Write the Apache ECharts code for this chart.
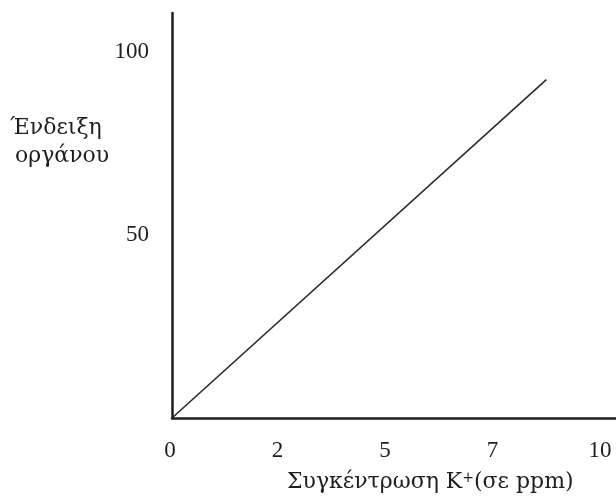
<!DOCTYPE html>
<html>
<head>
<meta charset="utf-8">
<style>
  html, body { margin: 0; padding: 0; background: #fff; }
  #chart { width: 616px; height: 498px; }
</style>
<script src="https://cdn.jsdelivr.net/npm/echarts@6/dist/echarts.min.js"></script>
</head>
<body>
<div id="chart"></div>
<script>
// Calibration line: instrument reading versus K+ concentration
const xTickLabels = ['0', '2', '5', '7', '10'];
const yTickValues = [50, 100];
const concentration = [0, 8.6];     // ppm
const reading = [0, 92.3];          // instrument reading

const FONT = '"Liberation Serif", "DejaVu Serif", serif';
const TEXT_FONT = '"DejaVu Serif", "Liberation Serif", serif';
const INK = '#1e1e1e';

const chart = echarts.init(document.getElementById('chart'), null, { renderer: 'canvas' });

chart.setOption({
  backgroundColor: '#ffffff',
  animation: false,
  grid: [
    { left: 172, right: 0, top: 13, bottom: 80 },
    { left: 170, width: 430, top: 13, bottom: 80 }
  ],
  xAxis: [
    {
      type: 'value', gridIndex: 0, min: 0, max: 10.2,
      axisLine: { show: true, lineStyle: { color: INK, width: 2.5 } },
      axisTick: { show: false }, axisLabel: { show: false }, splitLine: { show: false }
    },
    {
      type: 'category', gridIndex: 1, data: xTickLabels, boundaryGap: false,
      axisLine: { show: false }, axisTick: { show: false }, splitLine: { show: false },
      axisLabel: { show: true, interval: 0, margin: 21, color: INK, fontFamily: FONT, fontSize: 23 }
    }
  ],
  yAxis: [
    {
      type: 'value', gridIndex: 0, min: 0, max: 110.5, interval: 50,
      axisLine: { show: true, lineStyle: { color: INK, width: 2.5 } },
      axisTick: { show: false }, splitLine: { show: false },
      axisLabel: {
        show: true, margin: 23, color: INK, fontFamily: FONT, fontSize: 23,
        formatter: v => (yTickValues.indexOf(v) >= 0 ? String(v) : '')
      }
    },
    {
      type: 'value', gridIndex: 1, min: 0, max: 110.5, show: false
    }
  ],
  series: [
    {
      type: 'line', xAxisIndex: 0, yAxisIndex: 0,
      data: concentration.map((c, i) => [c, reading[i]]),
      showSymbol: false, symbol: 'none',
      lineStyle: { color: '#2a2a2a', width: 1.6 }
    }
  ],
  graphic: [
    {
      type: 'text', left: 10, top: 117,
      style: { text: 'Ένδειξη', font: '22px ' + TEXT_FONT, fill: INK }
    },
    {
      type: 'text', left: 15, top: 145,
      style: { text: 'οργάνου', font: '22px ' + TEXT_FONT, fill: INK }
    },
    {
      type: 'text', left: 287, top: 471,
      style: {
        text: 'Συγκέντρωση K{sup|+}(σε ppm)',
        font: '22px ' + TEXT_FONT, fill: INK,
        rich: { sup: { fontSize: 14, verticalAlign: 'top', padding: [0, 0, 8, 0], fontFamily: TEXT_FONT, fill: INK } }
      }
    }
  ]
});
</script>
</body>
</html>
